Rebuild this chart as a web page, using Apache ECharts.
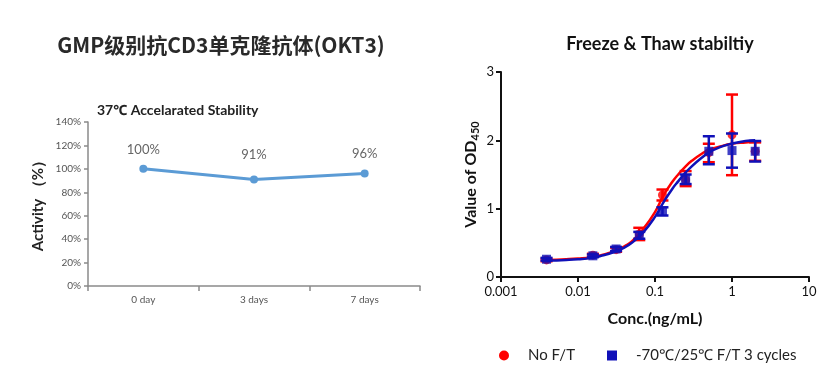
<!DOCTYPE html>
<html><head><meta charset="utf-8">
<script src="https://cdn.jsdelivr.net/npm/echarts@6/dist/echarts.min.js"></script>
<style>html,body{margin:0;padding:0;background:#fff}#c{width:837px;height:375px}</style>
</head><body><div id="c"></div>
<script>
// ---- left chart data ----
const stabCategories = ['0 day', '3 days', '7 days'];
const stabActivity = [100, 91, 96];
// ---- right chart data ----
const conc = [0.0039, 0.0156, 0.03125, 0.0625, 0.125, 0.25, 0.5, 1, 2];
const noFT = [0.25, 0.32, 0.40, 0.63, 1.20, 1.42, 1.82, 2.08, 1.84];
const noFTLow = [0.23, 0.30, 0.37, 0.54, 1.12, 1.33, 1.68, 1.49, 1.70];
const noFTHigh = [0.27, 0.34, 0.43, 0.72, 1.28, 1.55, 1.95, 2.67, 1.97];
const ft = [0.26, 0.31, 0.41, 0.61, 0.96, 1.43, 1.84, 1.85, 1.84];
const ftLow = [0.24, 0.29, 0.38, 0.56, 0.90, 1.36, 1.65, 1.60, 1.69];
const ftHigh = [0.28, 0.33, 0.44, 0.66, 1.02, 1.50, 2.06, 2.10, 1.99];
const curveX = [0.004, 0.007, 0.01, 0.015, 0.02, 0.03, 0.04, 0.05, 0.07, 0.1, 0.13, 0.17, 0.2, 0.25, 0.3, 0.4, 0.5, 0.7, 1, 1.5, 2];
const noFTCurve = [0.25, 0.26, 0.27, 0.29, 0.32, 0.38, 0.45, 0.52, 0.70, 0.95, 1.20, 1.40, 1.50, 1.62, 1.70, 1.80, 1.86, 1.91, 1.95, 1.97, 1.98];
const ftCurve = [0.24, 0.25, 0.26, 0.28, 0.31, 0.37, 0.43, 0.50, 0.65, 0.88, 1.10, 1.30, 1.40, 1.53, 1.62, 1.74, 1.82, 1.90, 1.95, 1.99, 2.00];
const yTicksRight = [0, 3, 1];
const xLogRange = [0.001, 10];

const RED = '#ff0000', BLUE = '#1010b8';
const FONT = 'Lato, "Noto Sans", sans-serif';

function errBar(color) {
  return function (params, api) {
    const x = api.value(0);
    const p1 = api.coord([x, api.value(1)]);
    const p2 = api.coord([x, api.value(2)]);
    const w = 6;
    const st = { stroke: color, lineWidth: 2.5 };
    return { type: 'group', children: [
      { type: 'line', shape: { x1: p1[0], y1: p1[1], x2: p2[0], y2: p2[1] }, style: st },
      { type: 'line', shape: { x1: p1[0] - w, y1: p1[1], x2: p1[0] + w, y2: p1[1] }, style: st },
      { type: 'line', shape: { x1: p2[0] - w, y1: p2[1], x2: p2[0] + w, y2: p2[1] }, style: st }
    ]};
  };
}

const chart = echarts.init(document.getElementById('c'));
chart.setOption({
  backgroundColor: '#fff',
  animation: false,
  textStyle: { fontFamily: FONT },
  title: [
    { text: 'GMP级别抗CD3单克隆抗体(OKT3)', left: 216, top: 30, textAlign: 'center',
      textStyle: { fontFamily: '"Noto Sans CJK SC", ' + FONT, fontSize: 21, fontWeight: 'bold', color: '#2a2a2a' } },
    { text: '37℃ Accelarated Stability', left: 92, top: 98,
      textStyle: { fontFamily: FONT, fontSize: 14, fontWeight: 'bold', color: '#222' } },
    { text: 'Freeze & Thaw stabiltiy', left: 655, top: 30, textAlign: 'center',
      textStyle: { fontFamily: FONT, fontSize: 18, fontWeight: 'bold', color: '#111' } }
  ],
  legend: {
    left: 494, top: 343, itemGap: 32, itemWidth: 10, itemHeight: 10,
    textStyle: { fontFamily: FONT, fontSize: 15, color: '#222', padding: [0, 0, 0, 14] },
    data: [
      { name: 'No F/T', icon: 'circle' },
      { name: '-70℃/25℃ F/T 3 cycles', icon: 'rect' }
    ]
  },
  grid: [
    { left: 88, top: 122, width: 332, height: 164 },
    { left: 501, top: 72, width: 308, height: 205 }
  ],
  xAxis: [
    { type: 'category', gridIndex: 0, data: stabCategories, boundaryGap: true,
      axisLine: { lineStyle: { color: '#8a8a8a', width: 1.5 } },
      axisTick: { show: true, length: 5, lineStyle: { color: '#8a8a8a', width: 1.5 } },
      axisLabel: { fontSize: 10, color: '#555', margin: 9 } },
    { type: 'log', gridIndex: 1, logBase: 10, min: xLogRange[0], max: xLogRange[1],
      name: 'Conc.(ng/mL)', nameLocation: 'middle', nameGap: 34,
      nameTextStyle: { fontSize: 16, fontWeight: 'bold', color: '#111' },
      axisLine: { lineStyle: { color: '#111', width: 2 } },
      axisTick: { length: 5, lineStyle: { color: '#111', width: 2 } },
      minorTick: { show: false },
      splitLine: { show: false },
      axisLabel: { fontSize: 13, color: '#111', margin: 8 } }
  ],
  yAxis: [
    { type: 'value', gridIndex: 0, min: 0, max: 140, interval: 20,
      name: 'Activity （%）', nameLocation: 'middle', nameGap: 42,
      nameTextStyle: { fontSize: 15, fontWeight: 'bold', color: '#222', padding: [0, 0, 0, 4] },
      axisLine: { show: true, lineStyle: { color: '#8a8a8a', width: 1.5 } },
      axisTick: { show: true, length: 4, lineStyle: { color: '#8a8a8a', width: 1.5 } },
      splitLine: { show: false },
      axisLabel: { fontSize: 10, color: '#555', margin: 7, formatter: '{value}%' } },
    { type: 'value', gridIndex: 1, min: yTicksRight[0], max: yTicksRight[1], interval: yTicksRight[2],
      name: 'Value of OD{sub|450}', nameLocation: 'middle', nameGap: 20,
      nameTextStyle: { fontSize: 16, fontWeight: 'bold', color: '#111',
        rich: { sub: { fontSize: 11, fontWeight: 'bold', color: '#111', padding: [9, 0, 0, 0] } } },
      axisLine: { show: true, lineStyle: { color: '#111', width: 2 } },
      axisTick: { show: true, length: 5, lineStyle: { color: '#111', width: 2 } },
      splitLine: { show: false },
      axisLabel: { fontSize: 13, color: '#111', margin: 7 } }
  ],
  series: [
    { type: 'line', xAxisIndex: 0, yAxisIndex: 0,
      data: stabActivity.map((v, i) => ({ value: v, label: { distance: i === 1 ? 14 : 9 } })),
      symbol: 'circle', symbolSize: 8,
      lineStyle: { color: '#5b9bd5', width: 3 }, itemStyle: { color: '#5b9bd5' },
      label: { show: true, position: 'top', formatter: '{c}%', fontSize: 13, color: '#666' } },
    { type: 'custom', name: 'No F/T', xAxisIndex: 1, yAxisIndex: 1, renderItem: errBar(RED),
      data: conc.map((x, i) => [x, noFTLow[i], noFTHigh[i]]), itemStyle: { color: RED }, z: 2 },
    { type: 'scatter', name: 'No F/T', xAxisIndex: 1, yAxisIndex: 1, symbol: 'circle', symbolSize: 9,
      itemStyle: { color: RED }, data: conc.map((x, i) => [x, noFT[i]]), z: 3 },
    { type: 'line', xAxisIndex: 1, yAxisIndex: 1, smooth: true, showSymbol: false,
      lineStyle: { color: RED, width: 2.5 }, data: curveX.map((x, i) => [x, noFTCurve[i]]), z: 4 },
    { type: 'custom', name: '-70℃/25℃ F/T 3 cycles', xAxisIndex: 1, yAxisIndex: 1, renderItem: errBar(BLUE),
      data: conc.map((x, i) => [x, ftLow[i], ftHigh[i]]), itemStyle: { color: BLUE }, z: 5 },
    { type: 'scatter', name: '-70℃/25℃ F/T 3 cycles', xAxisIndex: 1, yAxisIndex: 1, symbol: 'rect', symbolSize: 9,
      itemStyle: { color: BLUE }, data: conc.map((x, i) => [x, ft[i]]), z: 6 },
    { type: 'line', xAxisIndex: 1, yAxisIndex: 1, smooth: true, showSymbol: false,
      lineStyle: { color: BLUE, width: 2.5 }, data: curveX.map((x, i) => [x, ftCurve[i]]), z: 7 }
  ]
});
</script></body></html>
